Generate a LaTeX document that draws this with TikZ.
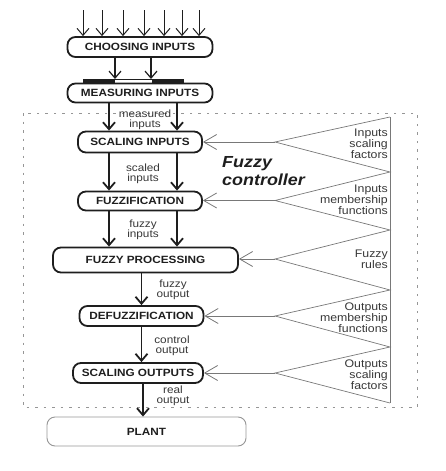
\documentclass[tikz,border=0pt]{standalone}
\usepackage{fontspec}
\setmainfont{Liberation Sans}[FakeStretch=1.12]
\usetikzlibrary{arrows.meta, calc}
\definecolor{boxblack}{RGB}{30, 30, 30}
\definecolor{wiregray}{RGB}{120, 120, 120}
\definecolor{framegray}{RGB}{150, 150, 150}
\definecolor{labelgray}{RGB}{55, 55, 55}

\begin{document}
\begin{tikzpicture}[
  x=1pt, y=-1pt,
  stage/.style={draw=boxblack, line width=1.8pt, rounded corners=8pt, inner sep=0pt, font=\fontsize{10.5}{12}\selectfont\bfseries, text=boxblack},
  flow/.style={draw=boxblack, line width=1.8pt, -{Straight Barb[length=7pt, width=12pt]}},
  feed/.style={draw=wiregray, line width=0.8pt, -{Straight Barb[length=13pt, width=15pt]}},
  note/.style={align=center, text=labelgray, font=\fontsize{10.5}{10}\selectfont, inner sep=0pt},
  param/.style={align=right, anchor=east, text=labelgray, font=\fontsize{11}{10.8}\selectfont, inner sep=0pt},
  wedge/.style={draw=wiregray, line width=0.7pt}
]
  \useasboundingbox (0,0) rectangle (446,471);

  \draw[framegray, line width=0.8pt, dash pattern=on 2.5pt off 6pt] (23,113) rectangle (417,407);

  \node[stage, minimum width=145pt, minimum height=20pt] (choose) at (140,47) {CHOOSING INPUTS};
  \node[stage, minimum width=145pt, minimum height=19pt] (measure) at (140,93) {MEASURING INPUTS};
  \node[stage, minimum width=124pt, minimum height=21pt] (scalein) at (140,142) {SCALING INPUTS};
  \node[stage, minimum width=124pt, minimum height=19pt] (fuzz) at (140,201) {FUZZIFICATION};
  \node[stage, minimum width=185pt, minimum height=25pt] (proc) at (145.5,260) {FUZZY PROCESSING};
  \node[stage, minimum width=124pt, minimum height=20pt] (defuzz) at (141.5,316) {DEFUZZIFICATION};
  \node[stage, minimum width=130pt, minimum height=20pt] (scaleout) at (138,373) {SCALING OUTPUTS};
  \node[draw=framegray, line width=0.9pt, rounded corners=8pt, minimum width=199pt, minimum height=29pt, font=\fontsize{10.5}{12}\selectfont\bfseries, text=boxblack] (plant) at (146.5,431.5) {PLANT};

  \foreach \x [count=\i] in {83,102,123,144,164,182,199} {
    \coordinate (in\i) at (\x,10);
    \draw[flow, line width=1pt] (in\i) -- (in\i |- choose.north);
  }

  \coordinate (barl) at (83,79);
  \coordinate (barr) at (183,83);
  \draw[boxblack, line width=0.6pt] (barl) rectangle (barr);
  \fill[boxblack] (barl) rectangle (115,83);
  \fill[boxblack] (152,79) rectangle (barr);
  \draw[flow, line width=1.2pt] ([xshift=-25pt]choose.south) -- ([xshift=-25pt]choose.south |- barl);
  \draw[flow, line width=1.2pt] ([xshift=11pt]choose.south) -- ([xshift=11pt]choose.south |- barl);

  \foreach \s in {-31,37} {
    \draw[flow] ([xshift=\s pt]measure.south) -- ([xshift=\s pt]scalein.north);
    \draw[flow] ([xshift=\s pt]scalein.south) -- ([xshift=\s pt]fuzz.north);
    \draw[flow] ([xshift=\s pt]fuzz.south) -- ([xshift=\s pt]fuzz.south |- proc.north);
  }
  \draw[flow] (defuzz.north |- proc.south) -- (defuzz.north);
  \draw[flow] (defuzz.south) -- (defuzz.south |- scaleout.north);
  \draw[flow] ([xshift=5pt]scaleout.south) -- ([xshift=5pt]scaleout.south |- plant.north);

  \node[note] (lblmeas) at (145,120) {measured\\inputs};
  \node[note] (lblscal) at (143,174) {scaled\\inputs};
  \node[note] (lblfzin) at (143,230) {fuzzy\\inputs};
  \node[note] (lblfzout) at (173,289.5) {fuzzy\\output};
  \node[note] (lblctrl) at (172,346) {control\\output};
  \node[note] (lblreal) at (173,396) {real\\output};

  \node[anchor=west, align=left, inner sep=0pt, text=boxblack, font=\fontsize{16}{18}\selectfont\bfseries\itshape] (ctrl) at (222,171) {Fuzzy\\controller};

  \foreach \y [count=\i from 0] in {117,172,230,290,347,403}
    \coordinate (rim\i) at (390,\y);
  \foreach \y [count=\i] in {142,200.5,259,316,373}
    \coordinate (tip\i) at (275,\y);
  \draw[wedge] (rim0) -- (rim5);
  \draw[wedge] (rim0) -- (tip1) -- (rim1) -- (tip2) -- (rim2) -- (tip3) -- (rim3) -- (tip4) -- (rim4) -- (tip5) -- (rim5);

  \draw[feed] (tip1) -- (tip1 -| scalein.east);
  \draw[feed] (tip2) -- (tip2 -| fuzz.east);
  \draw[feed] (tip3) -- (tip3 -| proc.east);
  \draw[feed] (tip4) -- (tip4 -| defuzz.east);
  \draw[feed] (tip5) -- (tip5 -| scaleout.east);

  \node[param] (parin1) at (388,144) {Inputs\\scaling\\factors};
  \node[param] (parin2) at (388,200) {Inputs\\membership\\functions};
  \node[param] (parrule) at (388,259) {Fuzzy\\rules};
  \node[param] (parout1) at (388,318) {Outputs\\membership\\functions};
  \node[param] (parout2) at (388,375) {Outputs\\scaling\\factors};
\end{tikzpicture}
\end{document}
